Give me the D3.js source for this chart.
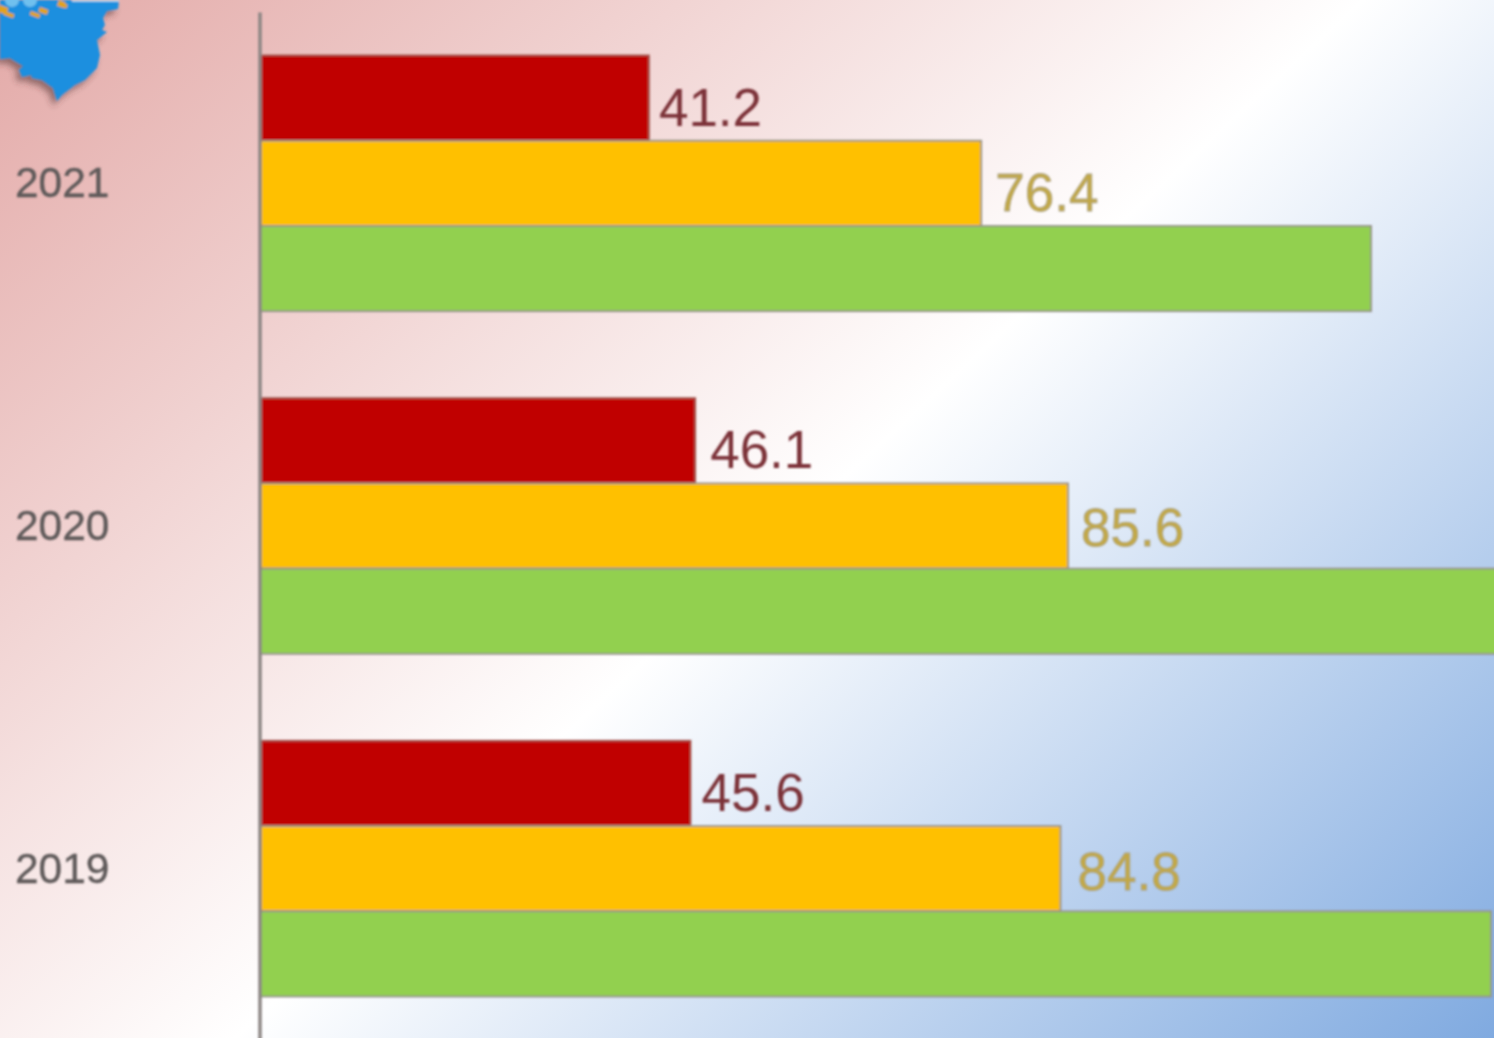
<!DOCTYPE html>
<html>
<head>
<meta charset="utf-8">
<script src="https://cdn.jsdelivr.net/npm/d3@7"></script>
<style>
    html, body { margin: 0; padding: 0; overflow: hidden; background: #fff; }
    svg { display: block; }
    text { font-family: "Liberation Sans", Arial, sans-serif; }
</style>
</head>
<body>
<div id="chart"></div>
<script>
var years = ["2021", "2020", "2019"];
var seriesNames = ["red", "orange", "green"];
var redValues = [41.2, 46.1, 45.6];
var orangeValues = [76.4, 85.6, 84.8];
var greenValues = [117.7, 132.5, 130.4];

var colors = { red: "#c00000", orange: "#ffc000", green: "#92d050" };
var strokes = { red: "#a0524c", orange: "#97938a", green: "#97938a" };
var labelColors = { red: "#7b3038", orange: "#c2a845" };
var labelStrokes = { red: "none", orange: "#a9a285" };

// the value labels sit a little unevenly in the picture
var labelNudge = {
    "red2021": [10, 28], "orange2021": [14, 27.5],
    "red2020": [15, 27], "orange2020": [13, 20],
    "red2019": [11, 27.5], "orange2019": [17, 21.5]
};

var width = 1494, height = 1038;

var rows = [];
years.forEach(function (year, i) {
    rows.push({ year: year, series: "red", value: redValues[i] });
    rows.push({ year: year, series: "orange", value: orangeValues[i] });
    rows.push({ year: year, series: "green", value: greenValues[i] });
});

var svg = d3.select("#chart").append("svg")
    .attr("width", width)
    .attr("height", height);

var defs = svg.append("defs");
var bg = defs.append("linearGradient")
    .attr("id", "bg")
    .attr("gradientUnits", "userSpaceOnUse")
    .attr("x1", 0).attr("y1", 0)
    .attr("x2", 1202).attr("y2", 1306);
bg.append("stop").attr("offset", 0).attr("stop-color", "#e3a9a7");
bg.append("stop").attr("offset", 0.52).attr("stop-color", "#ffffff");
bg.append("stop").attr("offset", 1).attr("stop-color", "#80aae0");

defs.append("filter").attr("id", "soft")
    .attr("filterUnits", "userSpaceOnUse")
    .attr("x", 0).attr("y", 0).attr("width", width).attr("height", height)
    .append("feGaussianBlur").attr("stdDeviation", 0.9);
defs.append("filter").attr("id", "shadow")
    .attr("x", "-20%").attr("y", "-20%").attr("width", "150%").attr("height", "150%")
    .append("feGaussianBlur").attr("stdDeviation", 3);

svg.append("rect")
    .attr("width", width)
    .attr("height", height)
    .attr("fill", "url(#bg)");

// Map fragment in the top left corner
var mapOutline = [[0, 0], [119, 0], [118, 9], [107, 11], [103, 18], [105, 25], [102, 30], [107, 32],
    [97, 40], [100, 55], [97, 68], [85, 80], [75, 85], [62, 95], [57, 101], [53, 88], [42, 80],
    [32, 78], [31, 75], [22, 77], [19, 70], [23, 66], [13, 60], [10, 58], [0, 59]];
var mapLine = d3.line();
var map = svg.append("g").attr("class", "map").attr("filter", "url(#soft)");
map.append("path")
    .attr("d", mapLine(mapOutline) + "Z")
    .attr("transform", "translate(-4,5)")
    .attr("fill", "#5a3a3a")
    .attr("opacity", 0.6)
    .attr("filter", "url(#shadow)");
map.append("path")
    .attr("d", mapLine(mapOutline) + "Z")
    .attr("fill", "#1b8fdf");
map.append("rect")
    .attr("x", 72).attr("y", 0).attr("width", 47).attr("height", 1.5)
    .attr("fill", "#d5e6ee");
// crest ornaments, only the lower edge is inside the picture
var crest = [[0, 5, 9, 7], [5, 11, 10, 4], [31, 11, 10, 4], [40, 7, 9, 5], [59, 0, 7, 6], [63, 3, 5, 4]];
map.selectAll(".dot").data([[12, 0], [30, 0]]).enter().append("circle")
    .attr("class", "dot")
    .attr("cx", function (d) { return d[0]; })
    .attr("cy", function (d) { return d[1]; })
    .attr("r", 7)
    .attr("fill", "#6fc0ee");
map.selectAll(".crest").data(crest).enter().append("rect")
    .attr("class", "crest")
    .attr("x", function (d) { return d[0]; })
    .attr("y", function (d) { return d[1]; })
    .attr("width", function (d) { return d[2]; })
    .attr("height", function (d) { return d[3]; })
    .attr("transform", function (d) { return "rotate(20," + d[0] + "," + d[1] + ")"; })
    .attr("fill", "#e3a21e");

var x = d3.scaleLinear().domain([0, 100]).range([260, 1204]);
var y0 = d3.scaleBand().domain(years).range([12, 1040]);
var y1 = d3.scaleBand().domain(seriesNames).range([0, y0.bandwidth()]).paddingOuter(0.51);

var chart = svg.append("g").attr("filter", "url(#soft)");

var groups = chart.selectAll(".year")
    .data(years)
    .enter().append("g")
    .attr("class", "year")
    .attr("transform", function (d) { return "translate(0," + y0(d) + ")"; });

groups.selectAll("rect")
    .data(function (year) { return rows.filter(function (r) { return r.year == year; }); })
    .enter().append("rect")
    .attr("x", x(0))
    .attr("y", function (d) { return y1(d.series); })
    .attr("width", function (d) { return x(d.value) - x(0); })
    .attr("height", y1.bandwidth())
    .attr("fill", function (d) { return colors[d.series]; })
    .attr("stroke", function (d) { return strokes[d.series]; })
    .attr("stroke-width", 1.8);

groups.selectAll("text")
    .data(function (year) { return rows.filter(function (r) { return r.year == year && r.series != "green"; }); })
    .enter().append("text")
    .attr("x", function (d) { return x(d.value) + labelNudge[d.series + d.year][0]; })
    .attr("y", function (d) { return y1(d.series) + y1.bandwidth() / 2 + labelNudge[d.series + d.year][1]; })
    .attr("font-size", 53)
    .attr("fill", function (d) { return labelColors[d.series]; })
    .attr("stroke", function (d) { return labelStrokes[d.series]; })
    .attr("stroke-width", 0.8)
    .text(function (d) { return d.value.toFixed(1); });

var axis = chart.append("g")
    .attr("transform", "translate(259.5,0)")
    .call(d3.axisLeft(y0).tickSize(0).tickPadding(150));
axis.select(".domain")
    .attr("stroke", "#8c8684")
    .attr("stroke-width", 3.5);
axis.selectAll("text")
    .attr("font-family", "'Liberation Sans', Arial, sans-serif")
    .attr("font-size", 42.5)
    .attr("fill", "#5f5a5a")
    .attr("stroke", "#5f5a5a")
    .attr("stroke-width", 0.4)
    .attr("dy", "0.33em");
</script>
</body>
</html>
